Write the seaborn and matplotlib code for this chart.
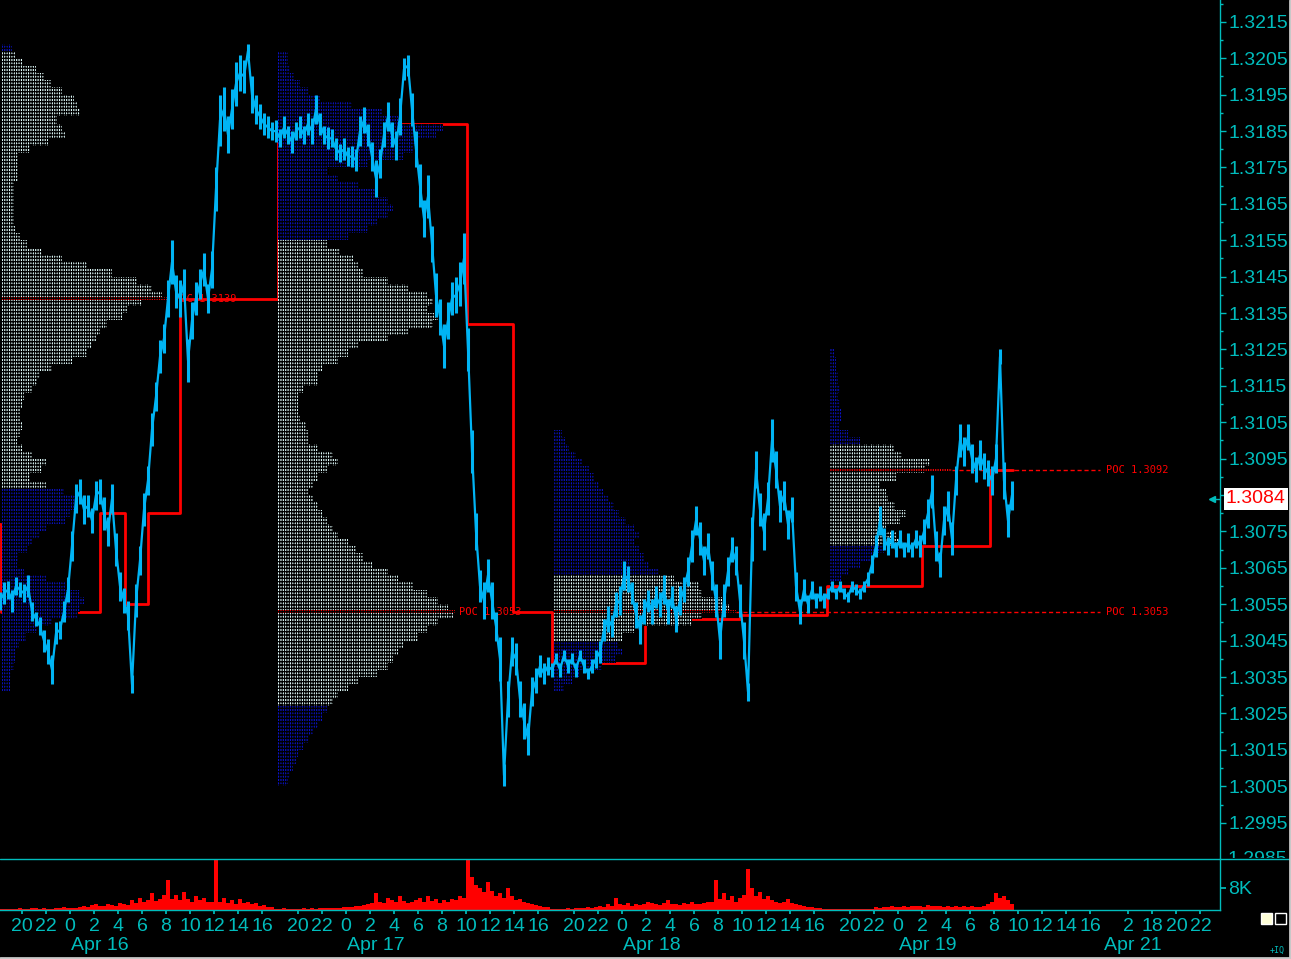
import numpy as np
import matplotlib
matplotlib.use("Agg")
import matplotlib.pyplot as plt
import seaborn as sns
from matplotlib.transforms import blended_transform_factory, Bbox, TransformedBbox
from matplotlib.patches import Rectangle
from matplotlib.lines import Line2D

sns.set_theme(style="dark", rc={"axes.facecolor": "black", "figure.facecolor": "black"})
plt.rcParams["font.family"] = ["Liberation Sans", "DejaVu Sans"]
plt.rcParams["hatch.linewidth"] = 0.9

CYAN = "#00bcbc"
BLUE = "#00b4f4"
RED = "#ff0000"
LIGHT = "#e4ffff"
DARK = "#0a12c8"

# 20-minute closes, x axis is trading hours since the Apr 16 session open
close = [
    # Apr 16
    1.3056, 1.3058, 1.3059, 1.3056, 1.3060, 1.3059, 1.3058, 1.3060, 1.3053, 1.3051,
    1.3049, 1.3045, 1.3042, 1.3037, 1.3047, 1.3048, 1.3053, 1.3059, 1.3071, 1.3084,
    1.3086, 1.3081, 1.3082, 1.3078, 1.3085, 1.3086, 1.3080, 1.3075, 1.3084, 1.3070,
    1.3060, 1.3056, 1.3052, 1.3033, 1.3056, 1.3067, 1.3081, 1.3089, 1.3103, 1.3112,
    1.3123, 1.3128, 1.3139, 1.3149, 1.3141, 1.3139, 1.3143, 1.3122, 1.3133, 1.3139,
    1.3143, 1.3147, 1.3139, 1.3147, 1.3169, 1.3188, 1.3191, 1.3184, 1.3191, 1.3198,
    1.3201, 1.3200, 1.3207, 1.3195, 1.3191, 1.3189, 1.3187, 1.3186, 1.3185,
    # Apr 17
    1.3185, 1.3183, 1.3186, 1.3184, 1.3182, 1.3185, 1.3186, 1.3184, 1.3187, 1.3185,
    1.3191, 1.3187, 1.3184, 1.3183, 1.3183, 1.3180, 1.3179, 1.3180, 1.3178, 1.3178,
    1.3177, 1.3185, 1.3188, 1.3184, 1.3178, 1.3172, 1.3176, 1.3184, 1.3189, 1.3184,
    1.3181, 1.3189, 1.3202, 1.3203, 1.3191, 1.3180, 1.3170, 1.3161, 1.3167, 1.3154,
    1.3140, 1.3134, 1.3126, 1.3133, 1.3139, 1.3140, 1.3143, 1.3150, 1.3125, 1.3097,
    1.3075, 1.3060, 1.3056, 1.3063, 1.3056, 1.3049, 1.3040, 1.3008, 1.3029, 1.3042,
    1.3040, 1.3029, 1.3023, 1.3018, 1.3031, 1.3034, 1.3038, 1.3036, 1.3038,
    # Apr 18
    1.3037, 1.3040, 1.3037, 1.3041, 1.3038, 1.3040, 1.3037, 1.3041, 1.3038, 1.3036,
    1.3038, 1.3040, 1.3042, 1.3048, 1.3051, 1.3049, 1.3055, 1.3056, 1.3063, 1.3062,
    1.3058, 1.3052, 1.3048, 1.3053, 1.3056, 1.3053, 1.3057, 1.3055, 1.3059, 1.3053,
    1.3057, 1.3051, 1.3056, 1.3059, 1.3064, 1.3071, 1.3078, 1.3073, 1.3067, 1.3071,
    1.3063, 1.3056, 1.3045, 1.3056, 1.3064, 1.3070, 1.3067, 1.3056, 1.3045, 1.3031,
    1.3073, 1.3092, 1.3081, 1.3075, 1.3084, 1.3100, 1.3092, 1.3082, 1.3085, 1.3077,
    1.3081, 1.3060, 1.3053, 1.3059, 1.3055, 1.3059, 1.3056, 1.3058, 1.3056,
    # Apr 19
    1.3058, 1.3060, 1.3058, 1.3060, 1.3058, 1.3057, 1.3060, 1.3059, 1.3058, 1.3060,
    1.3062, 1.3066, 1.3071, 1.3078, 1.3073, 1.3071, 1.3073, 1.3070, 1.3073, 1.3070,
    1.3072, 1.3070, 1.3073, 1.3071, 1.3075, 1.3080, 1.3086, 1.3071, 1.3066, 1.3078,
    1.3082, 1.3073, 1.3089, 1.3100, 1.3097, 1.3101, 1.3095, 1.3092, 1.3096, 1.3093,
    1.3091, 1.3089, 1.3095, 1.3123, 1.3089, 1.3078, 1.3085,
]

# high-low range of each bar, pips
bar_range = [
    # Apr 16
    5, 6, 5, 6, 5, 4, 5, 6, 5, 4, 5, 6, 7, 8, 6, 5, 6, 7, 8, 8,
    7, 8, 6, 7, 8, 7, 9, 8, 8, 9, 8, 7, 8, 5, 9, 8, 9, 8, 9, 8,
    9, 8, 10, 12, 9, 10, 8, 12, 10, 9, 8, 9, 8, 10, 12, 14, 12, 10, 11, 12,
    10, 9, 4, 10, 8, 7, 6, 6, 5,
    # Apr 17
    6, 5, 6, 5, 6, 5, 6, 5, 6, 7, 8, 6, 5, 6, 5, 6, 5, 6, 5, 6,
    6, 8, 7, 6, 8, 10, 8, 7, 8, 7, 8, 10, 6, 6, 9, 10, 12, 10, 12, 10,
    12, 10, 12, 10, 9, 10, 12, 14, 12, 12, 10, 9, 10, 9, 10, 8, 12, 6, 10, 8,
    9, 10, 10, 9, 8, 7, 6, 6, 5,
    # Apr 18
    4, 3, 4, 3, 4, 3, 4, 3, 4, 3, 4, 5, 6, 6, 7, 6, 7, 8, 8, 7,
    6, 7, 8, 7, 6, 7, 6, 7, 8, 7, 6, 7, 8, 7, 8, 9, 8, 9, 8, 7,
    8, 9, 10, 9, 8, 7, 8, 9, 10, 5, 12, 10, 9, 10, 9, 12, 10, 9, 8, 8,
    7, 8, 7, 6, 5, 5, 4, 4, 4,
    # Apr 19
    3, 3, 3, 3, 3, 3, 3, 3, 3, 3, 4, 5, 6, 8, 6, 5, 5, 4, 5, 4,
    5, 4, 5, 6, 7, 8, 9, 8, 7, 8, 8, 9, 8, 9, 8, 7, 8, 7, 8, 7,
    7, 8, 8, 4, 10, 9, 8,
]

# volume per bar, thousands
volume_k = [
    # Apr 16
    0.4, 0.3, 0.5, 0.4, 0.3, 0.6, 0.4, 0.5, 0.8, 0.6, 0.5, 0.7, 0.5, 0.4, 0.6, 0.8, 1.0, 0.8, 0.7, 0.9,
    1.2, 1.5, 1.0, 1.8, 2.0, 1.4, 1.6, 2.2, 1.8, 1.5, 2.5, 2.0, 1.7,
    3.5, 2.5, 4.5, 3.0, 3.8, 6.0, 3.2, 4.0, 5.5, 11.0,
    4.0, 5.5, 3.5, 6.5, 4.0, 3.0, 5.0, 3.5, 4.5, 3.0, 2.8,
    20.0,
    3.0, 4.5, 2.5, 3.5, 2.0, 4.0, 2.5, 3.0, 2.0, 2.5, 1.5, 1.8, 1.2, 1.0,
    # Apr 17
    0.5, 0.4, 0.6, 0.5, 0.3, 0.5, 0.4, 0.6, 0.5, 0.7, 0.5, 0.6, 0.8, 0.6, 0.7, 0.9, 0.8, 1.0, 1.2, 1.0,
    1.5, 1.3, 1.8,
    2.0, 2.5, 6.0, 3.0, 2.5, 4.5, 3.5, 2.8, 5.0, 3.2, 2.5,
    3.0, 3.5, 4.5, 2.8, 5.0, 3.2, 4.0, 2.5, 3.5, 3.0, 4.0, 3.5, 5.0, 4.5,
    20.0,
    12.0, 9.0, 8.0, 6.5, 10.0, 7.0, 5.0, 6.0,
    4.5, 8.0, 5.0, 3.5, 4.0, 3.0, 2.5, 2.0, 1.8, 1.5, 1.2, 1.0,
    # Apr 18
    0.3, 0.4, 0.5, 0.4, 0.6, 0.5, 0.8, 0.6, 0.7, 1.0, 0.8, 1.2,
    1.5, 1.2, 2.0, 1.5, 4.5, 2.0, 1.8, 2.5, 1.5, 2.0, 1.8, 2.2, 3.0, 2.5, 2.0, 1.8, 2.5, 3.5, 2.0, 2.2,
    1.8, 2.5, 2.0, 3.0, 2.2, 2.0, 2.5, 2.8, 3.0,
    11.0,
    4.0, 6.0, 3.5, 5.0, 3.0, 4.5, 5.5,
    15.0,
    8.0, 5.0, 6.5, 4.0, 5.0, 3.5,
    3.0, 2.5, 3.0, 4.0, 2.5, 2.0, 1.8, 1.5, 1.2, 1.0, 0.8, 0.6, 0.5,
    # Apr 19
    0.2, 0.3, 0.2, 0.3, 0.2, 0.4, 0.3, 0.2, 0.3, 0.4, 0.3, 0.5,
    1.0, 0.8, 1.2, 1.0, 1.5, 1.2, 1.0, 1.4, 1.2, 1.6, 1.3, 1.5, 1.2, 1.8, 1.5, 1.3, 1.6, 1.2, 1.5, 1.0,
    1.3, 1.2, 1.5, 1.0, 1.4, 1.2, 1.0, 1.3, 2.0,
    3.0, 6.0, 4.5, 5.0, 3.5, 2.0,
]

bar_hours = 1 / 3
first_bar = 1 / 6

session_open = [0, 23, 46, 69]
session_hours = [20, 22, 0, 2, 4, 6, 8, 10, 12, 14, 16]
future_ticks = [94.2, 96.2, 98.2, 100.2]
future_labels = ["2", "18", "20", "22"]
date_labels = ["Apr 16", "Apr 17", "Apr 18", "Apr 19", "Apr 21"]
date_pos = [6.1, 29.1, 52.1, 75.1, 92.2]

# developing point of control (step line)
dev_poc_t = [0.0, 0.25, 8.5, 10.6, 12.5, 15.2, 23.3, 39.1, 42.9, 46.2, 53.9, 61.8, 69.1, 77.0, 82.7, 84.6]
dev_poc = [1.3077, 1.3053, 1.3080, 1.3055, 1.3080, 1.3139, 1.3187, 1.3132, 1.3053, 1.3039,
           1.3051, 1.3052, 1.3060, 1.3071, 1.3092, 1.3092]

# market profiles, 2-pip rows from the top price down
profile_top = [1.3208, 1.3206, 1.3102, 1.3124]
profile_apr16 = [10, 14, 21, 34, 42, 49, 60, 72, 75, 78,
                 55, 60, 64, 46, 28, 16, 16, 16, 16, 12,
                 12, 12, 12, 12, 12, 14, 18, 26, 40, 60,
                 85, 110, 135, 150, 160, 140, 125, 120, 105, 98,
                 95, 90, 85, 70, 50, 38, 35, 30, 22, 20,
                 18, 18, 20, 18, 15, 20, 30, 45, 40, 28,
                 45, 62, 75, 72, 68, 63, 45, 38, 30, 25,
                 16, 15, 22, 45, 64, 77, 82, 78, 76, 50,
                 35, 24, 17, 13, 13, 12, 9, 8, 8]
profile_apr17 = [10, 10, 12, 16, 22, 30, 42, 74, 104, 120,
                 165, 158, 140, 135, 125, 90, 50, 60, 80, 100,
                 110, 115, 110, 100, 90, 70, 50, 62, 75, 80,
                 85, 110, 130, 150, 155, 150, 160, 155, 130, 110,
                 80, 70, 60, 45, 40, 40, 25, 20, 20, 20,
                 22, 28, 30, 30, 40, 55, 60, 50, 40, 35,
                 30, 35, 40, 45, 50, 55, 60, 70, 78, 85,
                 95, 110, 120, 135, 150, 160, 170, 175, 160, 150,
                 140, 125, 120, 115, 110, 100, 80, 70, 60, 55,
                 50, 45, 40, 35, 30, 25, 20, 18, 15, 12,
                 10]
profile_apr18 = [8, 12, 15, 22, 28, 35, 40, 45, 50, 55,
                 60, 65, 72, 80, 85, 80, 85, 90, 95, 105,
                 120, 145, 148, 170, 175, 148, 138, 80, 68, 64,
                 68, 62, 48, 25, 18, 10]
profile_apr19 = [5, 6, 6, 8, 8, 10, 8, 10, 12, 12,
                 9, 18, 30, 64, 72, 100, 95, 67, 50, 56,
                 58, 65, 76, 70, 56, 67, 69, 54, 42, 30,
                 18, 11, 3]
va_high = [1.3206, 1.3154, 1.3062, 1.3098]
va_low = [1.3088, 1.3028, 1.3046, 1.3072]
poc_price = [1.3139, 1.3053, 1.3053, 1.3092]
poc_count = [168, 177, 182, 122]
naked_poc_session = [2, 3]
last_price = 1.3084

# ---------------------------------------------------------------
fig = plt.figure(figsize=(12.91, 9.59), dpi=100)
ax = fig.add_axes([0, 0.1053, 0.945, 0.8947])
axv = fig.add_axes([0, 0.0511, 0.945, 0.0532], sharex=ax)

t = first_bar + bar_hours * np.arange(len(close))
close_arr = np.array(close)
half_rng = np.array(bar_range) * 0.0001 / 2
count_to_hours = 1 / 12
profile_shift = 0.35
hatch = "|||||||-----"

# developing POC under the profiles
ax.step(dev_poc_t, dev_poc, where="post", color=RED, lw=2, zorder=1)

profiles = [profile_apr16, profile_apr17, profile_apr18, profile_apr19]
for k, counts in enumerate(profiles):
    levels = profile_top[k] - 0.0002 * np.arange(len(counts))
    cols = [LIGHT if va_low[k] - 1e-6 <= p <= va_high[k] + 1e-6 else DARK for p in levels]
    left = session_open[k] + profile_shift
    ax.barh(levels, np.array(counts) * count_to_hours, left=left, height=0.0002,
            color=cols, edgecolor="black", linewidth=0, hatch=hatch, zorder=2)
    ax.barh(poc_price[k], poc_count[k] * count_to_hours, left=left, height=0.0001,
            color=RED, edgecolor="black", linewidth=0, hatch=hatch, zorder=2.2)

# naked POCs carried to the right
for k in naked_poc_session:
    x0 = session_open[k] + profile_shift + poc_count[k] * count_to_hours
    ax.hlines(poc_price[k], x0, 91.8, colors=RED, linestyles=(0, (3, 2)), lw=1, zorder=2.3)

for k in range(4):
    if k in naked_poc_session:
        xl = 92.3
    else:
        xl = session_open[k] + profile_shift + poc_count[k] * count_to_hours + 0.3
    ax.text(xl, poc_price[k], f"POC {poc_price[k]:.4f}", color=RED, fontsize=7.5,
            family="DejaVu Sans Mono", va="center", ha="left", zorder=2.5)

# price: bar ranges plus close line
ax.vlines(t, close_arr - half_rng, close_arr + half_rng, color=BLUE, lw=2.2, zorder=3)
sns.lineplot(x=t, y=close, ax=ax, color=BLUE, lw=1.6, zorder=3)

ax.set_xlim(2 / 12, 1222 / 12)
ax.set_ylim(1.29853, 1.32210)

yt = [round(1.2995 + 0.001 * i, 4) for i in range(23)]
ax.yaxis.tick_right()
ax.set_yticks(yt)
ax.set_yticklabels(["" if abs(v - 1.3085) < 1e-6 else f"{v:.4f}" for v in yt])
ax.set_yticks([v + 0.0005 for v in yt], minor=True)
ax.tick_params(axis="y", which="major", direction="out", length=4, width=1, color=CYAN,
               labelcolor=CYAN, labelsize=14, pad=2, right=True, left=False)
ax.tick_params(axis="y", which="minor", direction="out", length=2.5, width=1, color=CYAN, right=True, left=False)
ax.tick_params(axis="x", bottom=False, labelbottom=False)
ax.set_xlabel("")
ax.set_ylabel("")
for s in ax.spines.values():
    s.set_visible(False)
ax.spines["right"].set_visible(True)
ax.spines["right"].set_color(CYAN)
ax.spines["right"].set_linewidth(1)

# half-hidden bottom label
trans = blended_transform_factory(ax.transAxes, ax.transData)
lbl = ax.text(1 + 8 / 1220, 1.2985, "1.2985", transform=trans, color=CYAN, fontsize=14,
              va="center", ha="left", clip_on=True)
lbl.set_clip_box(TransformedBbox(Bbox([[0, 0.1053], [1, 1]]), fig.transFigure))

# last price box and marker
ax.text(1 + 6 / 1220, last_price, "1.3084", transform=trans, color=RED, fontsize=14,
        va="center", ha="left", zorder=6, clip_on=False,
        bbox=dict(boxstyle="square,pad=0.12", fc="white", ec="none"))
ax.plot([101.15, 101.8], [last_price, last_price], color=CYAN, lw=1, clip_on=False, zorder=6)
ax.plot([101.15], [last_price], marker="<", color=CYAN, ms=5, clip_on=False, zorder=6)

# volume panel
axv.bar(t, volume_k, width=0.28, color=RED, linewidth=0)
axv.set_ylim(0, 18.5)
axv.yaxis.tick_right()
axv.set_yticks([8])
axv.set_yticklabels(["8K"])
axv.tick_params(axis="y", direction="out", length=4, color=CYAN, labelcolor=CYAN, labelsize=14, pad=2,
                right=True, left=False)
for s in axv.spines.values():
    s.set_visible(False)
for side in ["right", "bottom"]:
    axv.spines[side].set_visible(True)
    axv.spines[side].set_color(CYAN)
    axv.spines[side].set_linewidth(1)

xt, xl = [], []
for k in session_open:
    for j, h in enumerate(session_hours):
        xt.append(k + 2 + 2 * j)
        xl.append(str(h))
xt += future_ticks
xl += future_labels
axv.set_xticks(xt)
axv.set_xticklabels(xl)
axv.tick_params(axis="x", direction="out", length=3, color=CYAN, labelcolor=CYAN, labelsize=14, pad=3,
                bottom=True)
axv.set_xlim(2 / 12, 1222 / 12)

dtrans = blended_transform_factory(axv.transData, fig.transFigure)
for d, p in zip(date_labels, date_pos):
    axv.text(p, 1 - 945 / 959, d, transform=dtrans, color=CYAN, fontsize=14, ha="left", va="center",
             clip_on=False)

# separator line between panels, full width
fig.add_artist(Line2D([0, 1], [1 - 858.5 / 959] * 2, transform=fig.transFigure, color=CYAN, lw=1))

# bottom-right widgets
W, H = 1291, 959
fig.add_artist(Rectangle((1261 / W, 1 - 924 / H), 11 / W, 11 / H, transform=fig.transFigure,
                         fc="#ffffd8", ec="white", lw=1))
fig.add_artist(Rectangle((1275 / W, 1 - 924 / H), 11 / W, 11 / H, transform=fig.transFigure,
                         fc="black", ec="white", lw=1))
fig.text(1270 / W, 1 - 950 / H, "+IQ", color=CYAN, fontsize=6, family="DejaVu Sans Mono", va="center")
fig.add_artist(Line2D([1 - 1 / W] * 2, [0, 1], transform=fig.transFigure, color="#c8c8c8", lw=2))
fig.add_artist(Line2D([0, 1], [1 / H] * 2, transform=fig.transFigure, color="#c8c8c8", lw=2))

fig.savefig("out.png", dpi=100, facecolor="black")
